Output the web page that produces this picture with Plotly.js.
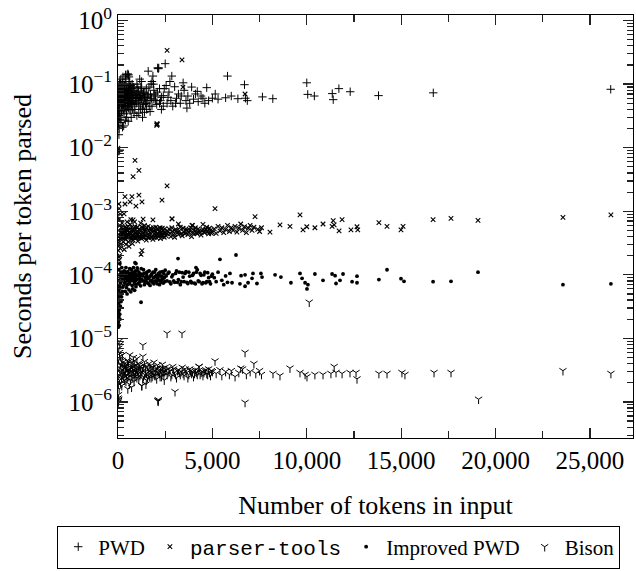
<!DOCTYPE html>
<html><head><meta charset="utf-8">
<script src="https://cdn.plot.ly/plotly-3.0.1.min.js"></script>
<style>html,body{margin:0;padding:0;background:#fff}#chart{width:636px;height:571px}</style>
</head><body><div id="chart"></div>
<script>
const seriesNames = ['PWD', '<span style="font-family:Liberation Mono,monospace">parser-tools</span>', 'Improved PWD', 'Bison'];
const xTickVals = [0, 5000, 10000, 15000, 20000, 25000];
const xTickText = ['0', '5,000', '10,000', '15,000', '20,000', '25,000'];
const yTickVals = [1e-6, 1e-5, 1e-4, 1e-3, 1e-2, 1e-1, 1];
const yTickText = ['10<sup>−6</sup>', '10<sup>−5</sup>', '10<sup>−4</sup>', '10<sup>−3</sup>', '10<sup>−2</sup>', '10<sup>−1</sup>', '10<sup>0</sup>'];

// [tokens, seconds per token]
const pwdPoints = [
[60,0.009],[90,0.0092],[40,0.0088],
[50,0.016],[60,0.02],[40,0.025],[80,0.03],[30,0.035],[100,0.04],[60,0.045],[20,0.05],[90,0.06],[50,0.07],[120,0.08],[70,0.1],[150,0.12],[30,0.022],[110,0.028],[20,0.065],[40,0.085],[10,0.04],[15,0.03],[25,0.055],
[150,0.03],[200,0.038],[250,0.045],[300,0.052],[350,0.06],[180,0.065],[220,0.075],[280,0.085],[330,0.095],[380,0.11],[260,0.13],[400,0.14],[160,0.025],[240,0.021],[320,0.034],[370,0.042],[190,0.05],[270,0.058],[340,0.07],[210,0.09],[390,0.027],[300,0.022],[130,0.1],[230,0.105],[170,0.045],
[450,0.035],[500,0.045],[550,0.055],[600,0.065],[650,0.075],[700,0.085],[750,0.1],[420,0.12],[480,0.14],[520,0.145],[560,0.14],[580,0.13],[620,0.11],[680,0.095],[720,0.048],[760,0.04],[460,0.03],[540,0.026],[640,0.038],[780,0.06],[430,0.07],[560,0.08],[700,0.052],[480,0.06],[620,0.05],[440,0.09],
[800,0.05],[900,0.06],[1000,0.075],[1100,0.055],[1200,0.065],[1300,0.042],[1400,0.06],[1500,0.05],[1600,0.07],[1700,0.055],[1800,0.045],[1900,0.08],[2000,0.065],[2200,0.05],[2400,0.045],[1100,0.035],[1300,0.03],[700,0.03],[900,0.04],[1000,0.1],[1150,0.12],[1250,0.085],
[20,0.045],[35,0.06],[55,0.075],[75,0.09],[95,0.11],[45,0.032],[65,0.038],[85,0.052],[105,0.068],[125,0.095],[140,0.058],[165,0.08],[185,0.038],[205,0.062],[225,0.048],[245,0.07],[265,0.085],[285,0.04],[305,0.068],[325,0.05],[345,0.082],[365,0.063],[385,0.046],[405,0.075],[425,0.055],[445,0.062],[465,0.08],[485,0.044],[505,0.07],[525,0.058],[545,0.095],[565,0.042],[585,0.068],[605,0.08],[625,0.06],[645,0.09],[665,0.052],[685,0.066],[705,0.075],[725,0.062],[745,0.085],[765,0.055],[785,0.072],[805,0.065],[830,0.09],[860,0.048],[890,0.078],[920,0.055],[960,0.062],[990,0.05],[1020,0.068],[1060,0.06],[1090,0.078],[1130,0.066],[1170,0.052],[1210,0.09],[1240,0.058],[1280,0.07],[1320,0.062],[1360,0.048],[1420,0.072],[1470,0.062],[1520,0.04],[1580,0.055],[1640,0.09],[1720,0.068],[1780,0.06],[1880,0.1],[1980,0.055],[2080,0.075],[2300,0.062],[2450,0.085],[2650,0.062],[2800,0.055],[3050,0.05],[3350,0.065],[3600,0.055],[4100,0.07],[4600,0.05],
[850,0.035],[950,0.07],[1000,0.032],[1050,0.09],[1100,0.045],[1200,0.04],[1250,0.11],[1350,0.075],[1400,0.036],[1450,0.05],[1500,0.085],[1550,0.065],[1600,0.16],[1650,0.045],[1700,0.037],[1750,0.1],[1800,0.11],[1850,0.134],[1900,0.058],[1950,0.07],[2050,0.048],[2100,0.18],[2130,0.175],[2160,0.18],[2200,0.085],[2250,0.055],[2300,0.04],[2400,0.066],[2500,0.21],[2550,0.095],[2600,0.05],[2700,0.075],[2750,0.11],[2850,0.134],[2900,0.045],[3000,0.091],[3100,0.06],[3200,0.07],[3300,0.05],[3450,0.105],[3500,0.08],[3650,0.042],[3700,0.065],[3800,0.05],[3900,0.09],[4000,0.058],[4200,0.077],[4250,0.053],[4400,0.065],[4500,0.06],[4700,0.088],[4800,0.055],[5000,0.06],[5150,0.07],[5300,0.058],[5700,0.061],[5800,0.134],[6000,0.065],[6350,0.059],[6700,0.098],[6750,0.06],[6850,0.055],[7650,0.063],[8200,0.059],[10000,0.105],[10050,0.069],[10400,0.065],[11350,0.071],[11400,0.057],[11700,0.085],[12300,0.076],[13800,0.066],[16700,0.073],[26100,0.083]
];

const parserToolsPoints = [
[10,1.2e-4],[30,1.5e-4],[50,1.9e-4],[20,2.4e-4],[60,2.9e-4],[40,3.5e-4],[80,4.2e-4],[30,5e-4],[100,6e-4],[70,7.5e-4],[120,9e-4],[150,3e-4],[200,3.8e-4],[250,4.5e-4],[180,5.5e-4],[280,3.3e-4],[120,2.6e-4],[90,2e-4],[220,6.5e-4],[300,4e-4],[60,1.1e-3],[40,1.3e-3],[20,3.2e-4],[140,4.6e-4],[230,5e-4],[110,3.7e-4],[60,1.7e-4],
[350,4.8e-4],[400,3.6e-4],[450,5.5e-4],[500,4.1e-4],[550,3.3e-4],[600,4.6e-4],[650,6.2e-4],[700,3.9e-4],[750,5e-4],[800,3.5e-4],[850,4.4e-4],[900,5.7e-4],[950,3.8e-4],[1000,4.7e-4],[1050,3.4e-4],[1100,5.2e-4],[1150,4.1e-4],[1200,6.5e-4],[1250,3.7e-4],[1300,4.5e-4],[1350,5.4e-4],[1400,3.9e-4],[1450,4.8e-4],[1500,3.5e-4],[1550,4.3e-4],[1600,5.8e-4],[1650,3.8e-4],[1700,4.6e-4],[1750,5.1e-4],[1800,4e-4],[1850,3.6e-4],[1900,4.9e-4],[1950,4.3e-4],[2000,5.6e-4],[2050,3.8e-4],[2100,4.5e-4],[2150,5.2e-4],[2200,4.1e-4],[2250,3.7e-4],[2300,4.7e-4],[2350,5.4e-4],[2400,4.2e-4],[2450,3.9e-4],[2500,4.6e-4],
[380,4.2e-4],[520,5e-4],[630,4e-4],[720,4.5e-4],[830,3.9e-4],[980,4.3e-4],[1130,4.6e-4],[1280,4e-4],[420,3e-4],[580,2.8e-4],[760,3.1e-4],[330,2.5e-4],[480,6.8e-4],[680,7.4e-4],[880,6.8e-4],[1330,7.5e-4],
[160,4.1e-4],[190,4.8e-4],[240,3.9e-4],[260,5.3e-4],[310,4.6e-4],[340,3.8e-4],[360,5.6e-4],[410,4.6e-4],[440,3.9e-4],[470,4.9e-4],[510,4.4e-4],[540,5.8e-4],[570,4.2e-4],[610,5.2e-4],[660,4.5e-4],[690,3.6e-4],[730,5.6e-4],[780,4.1e-4],[810,5e-4],[860,3.8e-4],[910,4.6e-4],[940,5.2e-4],[990,3.9e-4],[1030,5.6e-4],[1070,4.3e-4],[1120,3.8e-4],[1170,5e-4],[1220,4.3e-4],[1270,5.6e-4],[1320,3.9e-4],[1370,4.6e-4],[1420,5.2e-4],[1470,4.1e-4],[1520,5.5e-4],[1570,3.9e-4],[1620,4.9e-4],[1680,4.2e-4],[1730,5.4e-4],[1780,3.9e-4],[1830,4.7e-4],[1880,5.5e-4],[1930,3.9e-4],[1980,4.7e-4],[2030,4.2e-4],[2080,5.3e-4],[2130,4.3e-4],[2180,4.8e-4],[2230,5.5e-4],[2280,4.3e-4],[2330,4e-4],[2380,5e-4],[2430,4.6e-4],[2480,5.3e-4],[2550,4.1e-4],[2650,4.8e-4],[2750,4.5e-4],[2850,5.5e-4],[2950,4.3e-4],[3050,5.2e-4],[3150,4.6e-4],[3250,4.9e-4],[3350,4.4e-4],[3450,5.4e-4],[3550,4.4e-4],[3650,5e-4],[3750,4.7e-4],[3850,5.5e-4],[3950,4.5e-4],[4050,5.1e-4],[4150,4.6e-4],[4250,5.3e-4],[4350,4.6e-4],[4450,4.9e-4],[4550,4.7e-4],[4650,5.2e-4],[4750,4.8e-4],[4850,5.4e-4],[4950,4.5e-4],
[2600,4.4e-4],[2700,5.3e-4],[2800,4e-4],[2860,7.6e-4],[2900,4.8e-4],[3000,3.9e-4],[3100,5e-4],[3200,4.3e-4],[3300,5.6e-4],[3400,4.1e-4],[3500,4.7e-4],[3600,5.3e-4],[3700,4.3e-4],[3800,5e-4],[3900,4e-4],[4000,4.6e-4],[4100,5.5e-4],[4200,4.4e-4],[4300,4.9e-4],[4400,4.2e-4],[4500,5.2e-4],[4600,4.6e-4],[4700,5.6e-4],[4800,4.4e-4],[4900,5e-4],[5000,4.7e-4],[3950,6e-4],[4500,6.2e-4],[3200,6.3e-4],
[5100,5.3e-4],[5200,4.5e-4],[5300,5.8e-4],[5400,4.9e-4],[5500,5.5e-4],[5600,4.6e-4],[5700,5.2e-4],[5800,6e-4],[5900,4.8e-4],[6000,5.5e-4],[6100,5e-4],[6200,5.8e-4],[6300,4.7e-4],[6400,5.4e-4],[6500,6.3e-4],[6600,5e-4],[6700,5.7e-4],[6800,4.6e-4],[6900,5.4e-4],[7000,6e-4],[7100,5e-4],[7200,5.6e-4],[7260,8.2e-4],[7400,5.2e-4],[7500,4.8e-4],[7600,5.5e-4],[8050,4.7e-4],[8580,6.1e-4],[9110,5.8e-4],[9640,8.8e-4],[9800,5.1e-4],[10000,5.7e-4],[10430,5.5e-4],[10860,6.3e-4],[11340,5.8e-4],[11400,7.1e-4],[11450,6.1e-4],[11710,4.9e-4],[11870,7.4e-4],[12340,5.1e-4],[12660,5.7e-4],[12700,5.1e-4],[13820,6.6e-4],[14250,5.8e-4],[14990,5.1e-4],[15100,5.8e-4],[16690,7.4e-4],[17640,7.7e-4],[19070,7.2e-4],[23570,8e-4],[26110,8.8e-4],
[2600,0.34],[3390,0.24],[3440,0.09],[6730,0.07],
[2050,0.0225],[2080,0.0235],[2070,0.023],[2060,0.024],
[900,0.0063],[1110,0.0044],[800,0.0035],[2600,0.0025],[370,0.0017],[740,0.0017],[1110,0.0018],[370,0.0013],[640,0.0014],[950,0.0012],[1270,0.0014],[2330,0.0015],[5140,0.0011],[320,0.00091],[800,0.00073],[1850,0.00073],[2860,0.00076],[1400,0.0006],[3920,0.0006],[1270,2.4e-4],[1220,2.1e-4]
];

const improvedPoints = [
[10,1.5e-5],[20,1.8e-5],[40,2.2e-5],[15,2.6e-5],[50,3e-5],[30,3.5e-5],[70,4e-5],[20,4.5e-5],[90,5e-5],[40,5.6e-5],[110,6.2e-5],[60,6.8e-5],[130,7.5e-5],[30,8.2e-5],[150,9e-5],[80,1e-4],[170,1.1e-4],[50,1.2e-4],[200,1.3e-4],[100,1.5e-4],[230,5.5e-5],[260,6.5e-5],[190,4.5e-5],[280,8e-5],[120,3.2e-5],[160,3.8e-5],[70,2.8e-5],[100,2e-5],[60,1.6e-5],[90,2.4e-5],[140,5e-5],[20,6e-5],[210,9.5e-5],[250,1.1e-4],
[320,7e-5],[350,9e-5],[400,1.1e-4],[450,6.3e-5],[500,8e-5],[550,1e-4],[600,7.2e-5],[650,8.8e-5],[700,1.2e-4],[750,6.8e-5],[800,9.5e-5],[850,7.8e-5],[900,1.05e-4],[950,6.5e-5],[1000,8.5e-5],[1050,1.15e-4],[1100,7.3e-5],[1150,9.2e-5],[1200,6.7e-5],[1250,1.02e-4],[1300,8e-5],[1350,1.2e-4],[1400,7e-5],[1450,9e-5],[1500,1.08e-4],[1550,7.5e-5],[1600,8.7e-5],[1650,1.15e-4],[1700,6.8e-5],[1750,9.8e-5],[1800,8.2e-5],[1850,1.1e-4],[1900,7.2e-5],[1950,9.3e-5],[2000,1.2e-4],[2050,7.8e-5],[2100,8.8e-5],[2150,1.05e-4],[2200,7e-5],[2250,9.6e-5],[2300,8.3e-5],[2350,1.12e-4],[2400,7.4e-5],[2450,9e-5],[2500,1.18e-4],
[380,5.5e-5],[480,5e-5],[580,5.8e-5],[680,5.4e-5],[780,6e-5],[880,5.7e-5],[420,1.3e-4],[620,1.25e-4],[820,1.3e-4],[1020,1.28e-4],[530,9e-5],[730,8.2e-5],[930,9.2e-5],[1130,8.6e-5],[1230,1.25e-4],
[240,8.5e-5],[270,1e-4],[300,9.2e-5],[330,1.15e-4],[360,7.6e-5],[390,8.6e-5],[430,9.5e-5],[460,1.05e-4],[490,7e-5],[520,1.12e-4],[560,8.5e-5],[590,9.6e-5],[630,7.8e-5],[660,1.05e-4],[690,9e-5],[720,1e-4],[760,8.8e-5],[790,1.1e-4],[830,8.4e-5],[860,9.7e-5],[890,7.2e-5],[920,1.15e-4],[960,8.2e-5],[1000,1e-4],[1040,7.2e-5],[1080,9.6e-5],[1120,1.08e-4],[1160,7.8e-5],[1200,9.8e-5],[1260,8.5e-5],[1320,9.6e-5],[1380,1.05e-4],[1430,7.8e-5],[1480,8.3e-5],[1530,9.7e-5],[1580,1.12e-4],[1630,7.2e-5],[1680,9.2e-5],[1730,8e-5],[1780,1.02e-4],[1830,7.6e-5],[1880,9e-5],[1930,1.1e-4],[1980,8e-5],[2030,9.8e-5],[2080,7.2e-5],[2130,9.5e-5],[2180,8.2e-5],[2230,1.1e-4],[2280,7.6e-5],[2330,9.4e-5],[2380,8.6e-5],[2430,1.04e-4],[2480,7.8e-5],[2550,9.6e-5],[2650,1.05e-4],[2750,7.7e-5],[2850,9.3e-5],[2950,8e-5],[3050,1.05e-4],[3150,7.6e-5],[3250,1.1e-4],[3350,7.8e-5],[3450,9.2e-5],[3550,1.05e-4],[3650,7.6e-5],[3750,1.1e-4],[3850,7.9e-5],[3950,9.8e-5],[4050,7.4e-5],[4150,1.1e-4],[4250,8e-5],[4350,1.05e-4],[4450,7.2e-5],[4550,1e-4],[4650,7.5e-5],[4750,1.08e-4],[4850,7.8e-5],[4950,9.5e-5],
[2600,8e-5],[2700,1.1e-4],[2800,7.2e-5],[2900,1.0e-4],[3000,7.6e-5],[3100,1.15e-4],[3200,8.4e-5],[3300,7e-5],[3400,1.08e-4],[3500,7.8e-5],[3600,1.12e-4],[3700,7.3e-5],[3800,9.5e-5],[3900,7.5e-5],[4000,1.05e-4],[4100,7.2e-5],[4200,1.2e-4],[4300,7.8e-5],[4400,9.8e-5],[4500,7.5e-5],[4600,1.1e-4],[4700,7.8e-5],[4800,9e-5],[4900,7.2e-5],[5000,1.02e-4],
[5100,9e-5],[5200,7.8e-5],[5300,1.1e-4],[5500,8.2e-5],[5600,7e-5],[5700,9.6e-5],[5800,7.6e-5],
[5930,1.05e-4],[6040,7.5e-5],[6520,9.7e-5],[6730,1e-4],[6460,7.2e-5],[6730,6.6e-5],[6890,7.5e-5],[7150,1.05e-4],[7100,8.8e-5],[7570,1.05e-4],[7630,9.2e-5],[7360,7.3e-5],[8320,1e-4],[8630,9.2e-5],[9160,7.5e-5],[9640,1.05e-4],[9750,8.8e-5],[9910,7.5e-5],[10060,7e-5],[10010,6e-5],[10430,1.03e-4],[10860,8.2e-5],[11340,1.03e-4],[11500,9.7e-5],[11760,8.2e-5],[11550,7.3e-5],[11920,1.03e-4],[12660,9.5e-5],[12400,7.8e-5],[12660,7.5e-5],
[13820,8.4e-5],[14250,1.2e-4],[14990,8.7e-5],[15150,7.9e-5],[16690,7.8e-5],[17640,7.9e-5],[19070,1.1e-4],[23570,7e-5],[26110,7.2e-5],
[950,1.5e-4],[900,1.55e-4],[3180,1.8e-4],[5400,1.75e-4],[6250,2.05e-4],[1220,3.7e-5],[4130,1.3e-4]
];

const bisonPoints = [
[20,1.05e-6],[40,1.1e-6],[30,1.3e-6],[60,1.6e-6],[20,1.9e-6],[80,2.2e-6],[40,2.6e-6],[100,3e-6],[60,3.5e-6],[120,4e-6],[30,4.6e-6],[150,5.3e-6],[80,6e-6],[40,7e-6],[100,8e-6],[60,9e-6],[180,2.5e-6],[220,3.2e-6],[260,4.2e-6],[200,1.8e-6],[280,2.8e-6],[150,3.8e-6],[240,5.5e-6],[130,2e-6],[300,3.4e-6],[25,1.0e-6],[10,1.15e-6],
[350,2.2e-6],[400,3.8e-6],[450,2.7e-6],[500,4.5e-6],[550,3.1e-6],[600,1.9e-6],[650,3.5e-6],[700,2.5e-6],[750,4.2e-6],[800,2.9e-6],[850,2.1e-6],[900,3.7e-6],[950,2.6e-6],[1000,4.8e-6],[1050,3.2e-6],[1100,2.3e-6],[1150,3.9e-6],[1200,2.8e-6],[1250,1.8e-6],[1300,3.4e-6],[1350,2.5e-6],[1400,4.3e-6],[1450,3e-6],[1500,2.2e-6],[1550,3.6e-6],[1600,2.7e-6],[1650,4e-6],[1700,3.1e-6],[1750,2.4e-6],[1800,3.5e-6],[1850,2.9e-6],[1900,4.2e-6],[1950,2.6e-6],[2000,3.3e-6],[2050,2.3e-6],[2100,3.8e-6],[2200,2.8e-6],[2250,3.4e-6],[2300,2.5e-6],[2350,3.9e-6],[2400,3e-6],[2450,2.2e-6],[2500,3.5e-6],
[380,3e-6],[480,3.4e-6],[580,2.5e-6],[680,3e-6],[780,3.6e-6],[880,2.8e-6],[980,3.3e-6],[1080,2.8e-6],[1180,3.3e-6],[420,2.1e-6],[520,1.6e-6],[620,5.5e-6],[720,1.7e-6],[820,5e-6],[1320,5.2e-6],[1480,1.9e-6],
[160,3e-6],[190,2.3e-6],[210,4.5e-6],[250,2.7e-6],[270,3.6e-6],[310,2.4e-6],[330,4e-6],[360,2.9e-6],[390,3.5e-6],[430,2.6e-6],[460,3.9e-6],[490,2.4e-6],[530,3.2e-6],[560,4.3e-6],[590,2.9e-6],[630,3.3e-6],[660,2.2e-6],[690,4.1e-6],[730,2.9e-6],[760,3.4e-6],[790,2.4e-6],[830,3.2e-6],[860,4.4e-6],[890,2.5e-6],[930,3.1e-6],[960,3.8e-6],[1000,2.4e-6],[1030,3e-6],[1070,4e-6],[1110,3.5e-6],[1160,2.6e-6],[1210,3.6e-6],[1260,3e-6],[1310,2.3e-6],[1360,3.8e-6],[1410,2.7e-6],[1460,3.5e-6],[1510,2.8e-6],[1560,2.4e-6],[1610,3.3e-6],[1660,2.5e-6],[1710,3.7e-6],[1760,2.9e-6],[1810,2.5e-6],[1860,3.5e-6],[1910,2.7e-6],[1960,3.1e-6],[2010,2.6e-6],[2060,3.4e-6],[2120,2.9e-6],[2170,3.1e-6],[2230,2.5e-6],[2280,3.1e-6],[2330,2.8e-6],[2380,3.4e-6],[2430,2.6e-6],[2480,3e-6],[2550,3.2e-6],[2650,2.9e-6],[2750,3.1e-6],[2850,2.7e-6],[2950,3.3e-6],[3050,2.7e-6],[3150,3.1e-6],[3250,2.9e-6],[3350,3e-6],[3450,2.8e-6],[3550,3.3e-6],[3650,2.9e-6],[3750,2.7e-6],[3850,3.1e-6],[3950,3e-6],[4050,2.8e-6],[4150,2.9e-6],[4250,3.1e-6],[4350,2.7e-6],[4450,3e-6],[4550,2.9e-6],[4650,3.2e-6],[4750,2.7e-6],[4850,2.9e-6],[4950,3.1e-6],
[2600,2.7e-6],[2700,3.3e-6],[2800,2.5e-6],[2900,3.6e-6],[3000,2.9e-6],[3100,2.4e-6],[3200,3.2e-6],[3300,2.7e-6],[3400,3.5e-6],[3500,2.6e-6],[3600,3.1e-6],[3700,2.4e-6],[3800,3.3e-6],[3900,2.8e-6],[4000,2.5e-6],[4100,3.2e-6],[4200,2.7e-6],[4300,3.6e-6],[4400,2.9e-6],[4500,2.6e-6],[4600,3.1e-6],[4700,2.8e-6],[4800,3.3e-6],[4900,2.6e-6],[5000,3e-6],
[5140,4.4e-6],[5200,2.8e-6],[5400,3.2e-6],[5500,2.6e-6],[5700,3e-6],[5900,2.7e-6],[6000,3.1e-6],[6200,2.5e-6],[6400,2.9e-6],[6500,3.4e-6],[6600,3.3e-6],[6730,6e-6],[6730,9.8e-7],[6800,2.7e-6],[7000,3e-6],[7200,4e-6],[7300,2.8e-6],[7500,3.1e-6],[7600,2.7e-6],[8210,2.8e-6],[8580,2.6e-6],[9110,3.4e-6],[9640,2.9e-6],[9910,2.7e-6],[10010,2.5e-6],[10130,3.7e-5],[10430,2.7e-6],[10860,2.7e-6],[11280,2.8e-6],[11450,3.6e-6],[11550,2.9e-6],[11870,2.8e-6],[12290,2.9e-6],[12610,2.9e-6],[12660,2.3e-6],[13820,2.8e-6],[14250,2.8e-6],[15040,2.9e-6],[15200,2.7e-6],[16740,2.9e-6],[17640,2.9e-6],[19100,1.1e-6],[23570,3.1e-6],[26110,2.8e-6],
[1320,7.8e-6],[2600,1.2e-5],[3390,1.2e-5],[3020,1.45e-6],[1270,1.8e-6],[4290,3.6e-6],[2110,1.05e-6],[2140,1.08e-6],[2130,1.02e-6]
];

const allSeries = [pwdPoints, parserToolsPoints, improvedPoints, bisonPoints];
const markerStyles = [
  {symbol: 'cross-thin-open', size: 6, color: '#000', line: {width: 1, color: '#000'}},
  {symbol: 'x-thin-open', size: 4.5, color: '#000', line: {width: 1.1, color: '#000'}},
  {symbol: 'circle', size: 3.8, color: '#000', line: {width: 0}},
  {symbol: 'y-down-open', size: 6, color: '#000', line: {width: 1, color: '#000'}}
];

const traces = allSeries.map((pts, i) => ({
  type: 'scatter', mode: 'markers', name: seriesNames[i],
  x: pts.map(p => p[0]), y: pts.map(p => p[1]),
  marker: markerStyles[i], cliponaxis: true
}));
// empty trace that carries the minor-tick axes
traces.push({type: 'scatter', mode: 'markers', x: [], y: [], xaxis: 'x2', yaxis: 'y2', showlegend: false, hoverinfo: 'skip'});

const serif = 'Liberation Serif, Times New Roman, serif';
const xRange = [0, 27280];
const yRange = [-6.568, 0.088];
const layout = {
  width: 636, height: 571,
  margin: {l: 118, r: 3, t: 15, b: 126},
  paper_bgcolor: '#fff', plot_bgcolor: '#fff',
  showlegend: true,
  font: {family: serif, color: '#000'},
  xaxis: {
    range: xRange, showgrid: false, zeroline: false,
    showline: true, linecolor: '#000', linewidth: 1, mirror: 'allticks',
    ticks: 'inside', ticklen: 10, tickcolor: '#222', tickwidth: 1.3,
    tickmode: 'array', tickvals: xTickVals, ticktext: xTickText,
    tickfont: {family: serif, size: 25, color: '#000'},
    title: {text: 'Number of tokens in input', font: {family: serif, size: 26, color: '#000'}, standoff: 22}
  },
  yaxis: {
    type: 'log', range: yRange, showgrid: false, zeroline: false,
    showline: true, linecolor: '#000', linewidth: 1, mirror: 'allticks',
    ticks: 'inside', ticklen: 10, tickcolor: '#222', tickwidth: 1.3,
    tickmode: 'array', tickvals: yTickVals, ticktext: yTickText,
    tickfont: {family: serif, size: 25, color: '#000'},
    title: {text: 'Seconds per token parsed', font: {family: serif, size: 26, color: '#000'}, standoff: 29}
  },
  xaxis2: {
    overlaying: 'x', anchor: 'y2', side: 'bottom', range: xRange,
    showgrid: false, zeroline: false, showline: false, mirror: 'allticks',
    ticks: 'inside', ticklen: 7, tickcolor: '#222', tickwidth: 1.2,
    tickmode: 'linear', tick0: 0, dtick: 2500, showticklabels: false
  },
  yaxis2: {
    overlaying: 'y', anchor: 'x2', side: 'left', type: 'log', range: yRange,
    showgrid: false, zeroline: false, showline: false, mirror: 'allticks',
    ticks: 'inside', ticklen: 6, tickcolor: '#222', tickwidth: 1.2,
    tickmode: 'linear', tick0: 0, dtick: 'D1', showticklabels: false
  },
  legend: {
    orientation: 'h', x: -0.118, xanchor: 'left', y: -0.207, yanchor: 'top',
    bordercolor: '#000', borderwidth: 1, bgcolor: '#fff',
    font: {family: serif, size: 21, color: '#000'},
    itemwidth: 30, tracegroupgap: 0
  }
};

Plotly.newPlot('chart', traces, layout, {displayModeBar: false, staticPlot: true});
</script>
</body></html>
